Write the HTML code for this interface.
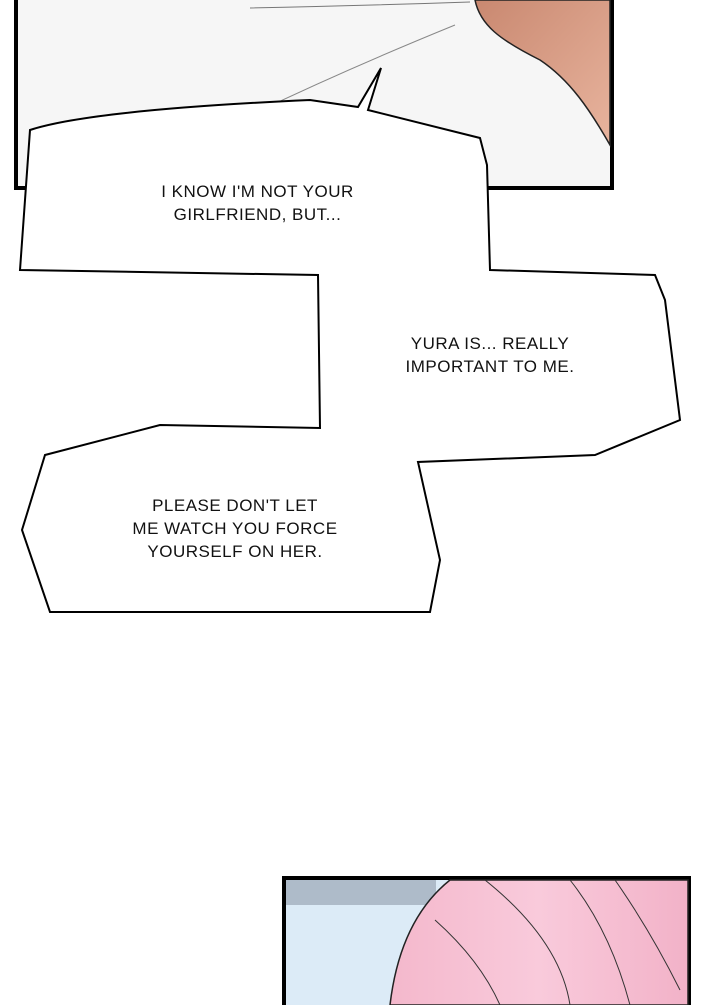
<!DOCTYPE html>
<html><head><style>
body{margin:0;width:720px;height:1005px;background:#fff;overflow:hidden;position:relative;font-family:"Liberation Sans",sans-serif}
.t{position:absolute;font-size:17px;color:#111;text-align:center;line-height:23px;letter-spacing:0.5px}
</style></head><body>
<svg width="720" height="1005" style="position:absolute;left:0;top:0">
<defs>
<linearGradient id="sk" x1="0" y1="0" x2="1" y2="1"><stop offset="0" stop-color="#c98870"/><stop offset="1" stop-color="#e8b49e"/></linearGradient>
<linearGradient id="hr" x1="0" y1="0" x2="1" y2="0"><stop offset="0" stop-color="#f4b8cc"/><stop offset="0.5" stop-color="#f9cadb"/><stop offset="1" stop-color="#f2b2c8"/></linearGradient>
</defs>
<rect x="16" y="-5" width="596" height="193" fill="#f6f6f6" stroke="#000" stroke-width="4"/>
<path d="M475,0 C480,25 500,40 540,60 C570,80 590,110 610,145 L610,0 Z" fill="url(#sk)" stroke="#222" stroke-width="1.5"/>
<path d="M250,8 Q350,6 470,2" stroke="#777" fill="none"/>
<path d="M210,135 Q320,80 455,25" stroke="#888" fill="none"/>
<path d="M30,130 Q90,110 310,100 L358,107 L381,68 L368,110 L480,138 L487,165 L490,270 L655,275 L665,300 L680,420 L595,455 L418,462 L440,560 L430,612 L50,612 L22,530 L45,455 L160,425 L320,428 L318,275 L20,270 Z" fill="#fff" stroke="#000" stroke-width="2"/>
<rect x="284" y="878" width="405" height="130" fill="#dcebf7" stroke="#000" stroke-width="4"/>
<rect x="286" y="880" width="150" height="25" fill="#aebbc9"/>
<path d="M450,880 Q400,920 390,1005 L688,1005 L688,880 Z" fill="url(#hr)" stroke="#222" stroke-width="1.5"/>
<path d="M485,880 Q560,940 570,1005 M570,880 Q610,930 630,1005 M615,880 Q650,930 680,990 M435,920 Q480,960 500,1005" stroke="#333" fill="none"/>
</svg>
<div class="t" style="left:140px;top:180px;width:235px">I KNOW I'M NOT YOUR<br>GIRLFRIEND, BUT...</div>
<div class="t" style="left:385px;top:332px;width:210px">YURA IS... REALLY<br>IMPORTANT TO ME.</div>
<div class="t" style="left:115px;top:494px;width:240px">PLEASE DON'T LET<br>ME WATCH YOU FORCE<br>YOURSELF ON HER.</div>
</body></html>
